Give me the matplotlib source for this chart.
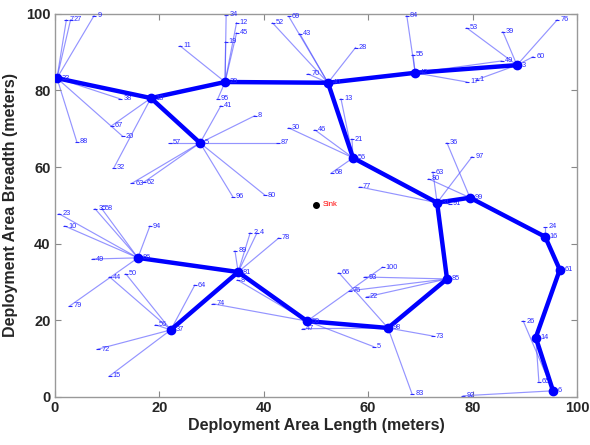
import matplotlib as mpl
mpl.use('Agg')
import matplotlib.pyplot as plt

# cluster heads
ch_id = ['33', '18', '29', '40', '42', '3', '5', '56', '31', '99',
         '16', '61', '14', '6', '85', '98', '59', '81', '86', '37']
ch_x = [0.4, 18.4, 32.6, 52.3, 69.0, 88.5, 27.8, 57.1, 73.2, 79.5,
        93.9, 96.7, 92.1, 95.4, 75.1, 63.8, 48.3, 35.1, 15.9, 22.2]
ch_y = [83.2, 78.0, 82.2, 82.0, 84.6, 86.6, 66.3, 62.4, 50.7, 52.0,
        41.8, 33.2, 15.5, 1.6, 30.8, 18.0, 19.8, 32.6, 36.3, 17.5]

# backbone links between cluster heads (index pairs)
links = [(0, 1), (1, 2), (1, 6), (2, 3), (3, 4), (4, 5), (3, 7), (7, 8),
         (8, 9), (9, 10), (10, 11), (11, 12), (12, 13), (8, 14), (14, 15),
         (15, 16), (16, 17), (17, 18), (17, 19)]

# member nodes and the cluster head each one reports to
node_id = ['7', '27', '9', '38', '20', '88',
           '67', '32',
           '34', '12', '45', '19', '11', '95',
           '57', '87', '8', '41', '63', '62', '96', '80',
           '69', '52', '43', '28', '70',
           '13', '30', '46', '21', '68',
           '77', '63', '97', '91',
           '36', '80',
           '84', '55', '17', '49',
           '53', '39', '76', '60', '1',
           '24', '65', '26', '92',
           '93', '76', '22',
           '66', '47', '73', '83',
           '100', '5', '74', '8',
           '2', '4', '78', '89',
           '23', '10', '35', '58', '94', '49', '79',
           '44', '50', '64', '56', '72', '15']
node_x = [2.2, 3.0, 7.5, 12.5, 13.0, 4.2,
          10.9, 11.3,
          32.8, 34.8, 34.8, 32.7, 24.0, 31.2,
          22.0, 42.7, 38.3, 31.8, 14.8, 17.0, 34.1, 40.2,
          44.8, 41.7, 46.9, 57.6, 48.5,
          54.8, 44.8, 49.8, 56.9, 53.0,
          58.4, 72.4, 79.9, 75.6,
          75.1, 71.6,
          67.4, 68.6, 78.9, 85.6,
          78.9, 85.8, 96.2, 91.6, 80.8,
          93.9, 92.7, 89.7, 78.2,
          59.4, 56.5, 59.7,
          54.4, 47.5, 72.4, 68.4,
          62.8, 61.1, 30.3, 35.0,
          37.4, 38.7, 42.9, 34.5,
          0.8, 1.9, 7.7, 9.0, 18.2, 7.3, 2.9,
          10.5, 13.6, 26.8, 19.3, 8.3, 10.5]
node_y = [98.4, 98.4, 99.5, 77.8, 68.0, 66.6,
          70.8, 59.8,
          99.7, 97.7, 95.0, 92.7, 91.6, 77.8,
          66.3, 66.3, 73.4, 76.0, 55.8, 56.0, 52.2, 52.7,
          99.3, 97.6, 94.8, 91.2, 84.3,
          77.8, 70.2, 69.7, 67.3, 58.5,
          54.8, 58.7, 62.7, 50.4,
          66.3, 56.9,
          99.5, 89.3, 82.2, 87.7,
          96.3, 95.3, 98.4, 88.8, 82.8,
          44.4, 3.9, 19.8, 0.3,
          31.3, 27.7, 26.1,
          32.4, 17.8, 15.9, 0.8,
          33.9, 13.1, 24.3, 30.5,
          42.8, 42.8, 41.5, 38.1,
          47.8, 44.6, 49.1, 49.1, 44.6, 36.0, 23.8,
          31.3, 32.1, 29.2, 18.8, 12.5, 5.5]
node_ch = [0, 0, 0, 0, 0, 0,
           1, 1,
           2, 2, 2, 2, 2, 2,
           6, 6, 6, 6, 6, 6, 6, 6,
           3, 3, 3, 3, 3,
           7, 7, 7, 7, 7,
           8, 8, 8, 8,
           9, 9,
           4, 4, 4, 4,
           5, 5, 5, 5, 5,
           10, 12, 13, 13,
           14, 14, 14,
           15, 15, 15, 15,
           16, 16, 16, 16,
           17, 17, 17, 17,
           18, 18, 18, 18, 18, 18, 18,
           19, 19, 19, 19, 19, 19]

sink_x, sink_y = 50, 50

plt.rcParams['font.family'] = ['Liberation Sans', 'DejaVu Sans']

fig = plt.figure(figsize=(5.9, 4.45), dpi=100)
ax = fig.add_axes([0.093, 0.108, 0.885, 0.861])

# member -> cluster head links
for i in range(len(node_id)):
    c = node_ch[i]
    ax.plot([ch_x[c], node_x[i]], [ch_y[c], node_y[i]], '-',
            color=(0.3, 0.3, 1.0), alpha=0.6, lw=0.85, zorder=1)

for i in range(len(node_id)):
    ax.plot(node_x[i], node_y[i], marker='_', color='#2a2aff', ms=3,
            mew=0.8, zorder=2)
    ax.text(node_x[i] + 0.6, node_y[i], node_id[i], color='#2a2aff',
            fontsize=5.3, va='center', ha='left', zorder=3)

# backbone between cluster heads
for a, b in links:
    ax.plot([ch_x[a], ch_x[b]], [ch_y[a], ch_y[b]], '-', color='#0000ff',
            lw=3.2, solid_capstyle='round', zorder=4)
ax.plot(ch_x, ch_y, 'o', color='#0000ff', ms=6, zorder=5)
for i in range(len(ch_id)):
    ax.text(ch_x[i] + 0.9, ch_y[i], ch_id[i], color='#2a2aff',
            fontsize=5.3, va='center', ha='left', zorder=6)

ax.plot(sink_x, sink_y, 'o', color='black', ms=4, zorder=6)
ax.text(sink_x + 1.2, sink_y + 0.3, 'Sink', color='red', fontsize=5.5,
        va='center', ha='left', zorder=6)

ax.set_xlim(0, 100)
ax.set_ylim(0, 100)
ax.set_xticks([0, 20, 40, 60, 80, 100])
ax.set_yticks([0, 20, 40, 60, 80, 100])
ax.tick_params(direction='in', length=4, width=0.8, color='#888888',
               top=True, right=True, labelsize=10.5, labelcolor='#262626',
               pad=3)
for lab in ax.get_xticklabels() + ax.get_yticklabels():
    lab.set_fontweight('bold')
for s in ax.spines.values():
    s.set_color('#999999')
    s.set_linewidth(1.0)

ax.set_xlabel('Deployment Area Length (meters)', fontsize=11.5,
              fontweight='bold', color='#262626', labelpad=2)
ax.set_ylabel('Deployment Area Breadth (meters)', fontsize=11.5,
              fontweight='bold', color='#262626', labelpad=6)

fig.savefig('out.png', dpi=100, facecolor='white')
